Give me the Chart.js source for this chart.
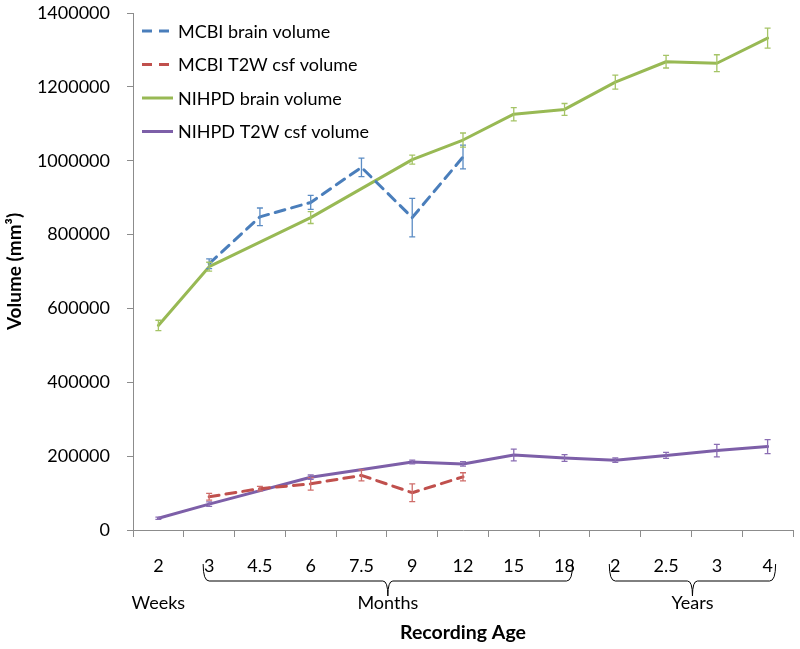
<!DOCTYPE html>
<html>
<head>
<meta charset="utf-8">
<script src="https://cdn.jsdelivr.net/npm/chart.js@4.4.0/dist/chart.umd.min.js"></script>
<style>
html, body { margin: 0; padding: 0; background: #fff; }
#wrap { width: 800px; height: 649px; }
</style>
</head>
<body>
<div id="wrap"><canvas id="c"></canvas></div>
<script>
// x categories (2 weeks, then months, then years)
var ageLabels = ['2', '3', '4.5', '6', '7.5', '9', '12', '15', '18', '2', '2.5', '3', '4'];
var ageGroups = [
	{ label: 'Weeks', from: 0, to: 0, brace: false },
	{ label: 'Months', from: 1, to: 8, brace: true },
	{ label: 'Years', from: 9, to: 12, brace: true }
];

var mcbiBrain = [null, 721000, 848000, 887000, 982000, 846000, 1010000, null, null, null, null, null, null];
var mcbiBrainErr = [null, 13000, 24000, 19000, 25000, 52000, 32000, null, null, null, null, null, null];
var mcbiCsf = [null, 90000, 112000, 125000, 148000, 101000, 144000, null, null, null, null, null, null];
var mcbiCsfErr = [null, 9000, 6000, 17000, 15000, 24000, 11000, null, null, null, null, null, null];
var nihpdBrain = [554000, 713000, null, 846000, null, 1003000, 1056000, 1126000, 1139000, 1213000, 1268000, 1264000, 1332000];
var nihpdBrainErr = [14000, 12000, null, 16000, null, 12000, 19000, 18000, 16000, 19000, 17000, 23000, 27000];
var nihpdCsf = [32000, 70000, null, 143000, null, 184000, 179000, 203000, 195000, 189000, 202000, 215000, 226000];
var nihpdCsfErr = [3000, 6000, null, 6000, null, 5000, 6000, 16000, 9000, 6000, 8000, 17000, 19000];

var FONT = 'Lato, "Open Sans", sans-serif';

//error bars drawn through the y scale
var errorBars = {
	id: 'errorBars',
	afterDatasetsDraw: function(chart) {
		var ctx = chart.ctx;
		var yScale = chart.scales.y;
		chart.data.datasets.forEach(function(ds, i) {
			var meta = chart.getDatasetMeta(i);
			ctx.save();
			ctx.strokeStyle = ds.errColor;
			ctx.lineWidth = 1.3;
			ds.errors.forEach(function(e, j) {
				if (e == null || ds.data[j] == null) return;
				var x = meta.data[j].x;
				var top = yScale.getPixelForValue(ds.data[j] + e);
				var bot = yScale.getPixelForValue(ds.data[j] - e);
				ctx.beginPath();
				ctx.moveTo(x, top); ctx.lineTo(x, bot);
				ctx.moveTo(x - 3, top); ctx.lineTo(x + 3, top);
				ctx.moveTo(x - 3, bot); ctx.lineTo(x + 3, bot);
				ctx.stroke();
			});
			ctx.restore();
		});
	}
};

// legend inside the plot + braces and group names under the axis
var extras = {
	id: 'extras',
	afterDraw: function(chart) {
		var ctx = chart.ctx;
		var area = chart.chartArea;
		var xScale = chart.scales.x;

		ctx.save();
		ctx.font = '18px ' + FONT;
		ctx.textBaseline = 'middle';
		ctx.textAlign = 'left';
		chart.data.datasets.forEach(function(ds, i) {
			var y = area.top + 18 + i * 33.5;
			ctx.strokeStyle = ds.borderColor;
			ctx.lineWidth = 3;
			ctx.setLineDash(ds.borderDash || []);
			ctx.beginPath();
			ctx.moveTo(area.left + 9, y);
			ctx.lineTo(area.left + 40, y);
			ctx.stroke();
			ctx.setLineDash([]);
			ctx.fillStyle = '#000';
			ctx.fillText(ds.label, area.left + 45, y + 1);
		});

		var braceTop = area.bottom + 34;
		var braceMid = area.bottom + 51;
		var braceTip = area.bottom + 66;
		ctx.strokeStyle = '#000';
		ctx.lineWidth = 1;
		ctx.textAlign = 'center';
		ageGroups.forEach(function(g) {
			var x0 = xScale.getPixelForValue(g.from);
			var x1 = xScale.getPixelForValue(g.to);
			var cx = (x0 + x1) / 2;
			if (g.brace) {
				var l = x0 - 6, r = x1 + 8;
				cx = (l + r) / 2;
				ctx.beginPath();
				ctx.moveTo(l, braceTop);
				ctx.quadraticCurveTo(l, braceMid, l + 6, braceMid);
				ctx.lineTo(cx - 5, braceMid);
				ctx.quadraticCurveTo(cx, braceMid, cx, braceTip);
				ctx.quadraticCurveTo(cx, braceMid, cx + 5, braceMid);
				ctx.lineTo(r - 6, braceMid);
				ctx.quadraticCurveTo(r, braceMid, r, braceTop);
				ctx.stroke();
			}
			ctx.fillStyle = '#000';
			ctx.fillText(g.label, cx, area.bottom + 73);
		});
		ctx.restore();
	}
};

var ctx = document.getElementById('c');
var myChart = new Chart(ctx, {
	type: 'line',
	data: {
		labels: ageLabels,
		datasets: [{
			label: 'MCBI brain volume',
			data: mcbiBrain,
			errors: mcbiBrainErr,
			borderColor: '#4a7ebb',
			errColor: '#5b8cc4',
			borderDash: [10, 7]
		}, {
			label: 'MCBI T2W csf volume',
			data: mcbiCsf,
			errors: mcbiCsfErr,
			borderColor: '#c0504d',
			errColor: '#cf6d6a',
			borderDash: [10, 7]
		}, {
			label: 'NIHPD brain volume',
			data: nihpdBrain,
			errors: nihpdBrainErr,
			borderColor: '#98b954',
			errColor: '#a5c466'
		}, {
			label: 'NIHPD T2W csf volume',
			data: nihpdCsf,
			errors: nihpdCsfErr,
			borderColor: '#7d5fa8',
			errColor: '#8a6db3'
		}]
	},
	options: {
		responsive: true,
		maintainAspectRatio: false,
		animation: false,
		spanGaps: true,
		layout: { padding: { top: 13, right: 7, left: 0, bottom: 0 } },
		elements: {
			line: { borderWidth: 3, tension: 0, borderCapStyle: 'round', borderJoinStyle: 'round' },
			point: { radius: 0, hoverRadius: 0 }
		},
		plugins: {
			legend: { display: false },
			tooltip: { enabled: false }
		},
		scales: {
			x: {
				offset: true,
				grid: { offset: true, drawOnChartArea: false, drawTicks: true, tickLength: 7, color: '#8c8c8c' },
				border: { color: '#8c8c8c', width: 1 },
				ticks: { color: '#000', font: { family: FONT, size: 18 }, padding: 18, autoSkip: false, maxRotation: 0 },
				title: { display: true, text: 'Recording Age', color: '#000', font: { family: FONT, size: 19.5, weight: 'bold' }, padding: { top: 0, bottom: 5 } },
				afterFit: function(scale) { scale.height = 119; scale.paddingLeft = 0; scale.paddingRight = 0; }
			},
			y: {
				min: 0,
				max: 1400000,
				grid: { drawOnChartArea: false, drawTicks: true, tickLength: 6, color: '#8c8c8c' },
				border: { color: '#8c8c8c', width: 1 },
				ticks: {
					stepSize: 200000,
					color: '#000',
					font: { family: FONT, size: 18 },
					padding: 17,
					callback: function(v) { return String(v); }
				},
				title: { display: true, text: 'Volume (mm³)', color: '#000', font: { family: FONT, size: 19, weight: 'bold' }, padding: { top: 3, bottom: 0 } },
				afterFit: function(scale) { scale.width = 133; scale.paddingTop = 0; scale.paddingBottom = 0; }
			}
		}
	},
	plugins: [errorBars, extras]
});
</script>
</body>
</html>
